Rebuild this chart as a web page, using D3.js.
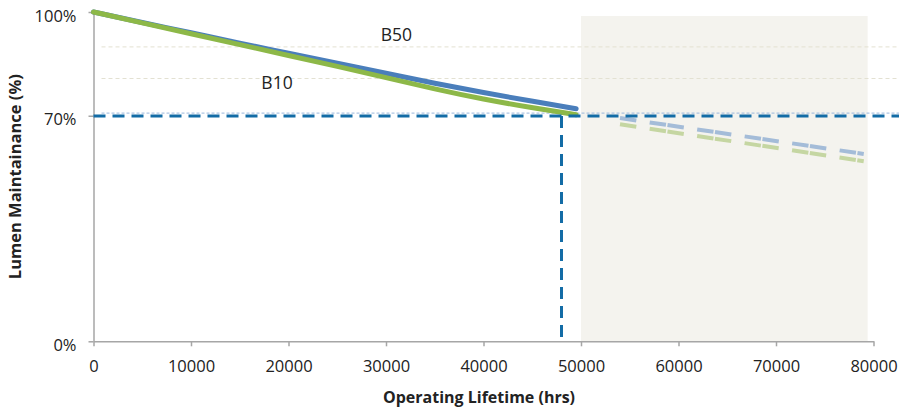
<!DOCTYPE html>
<html>
<head>
<meta charset="utf-8">
<script src="https://cdn.jsdelivr.net/npm/d3@7"></script>
<style>
  body { margin: 0; background: #fff; }
  text { font-family: "Open Sans", sans-serif; fill: #222; }
</style>
</head>
<body>
<svg id="chart" width="899" height="410"></svg>
<script>
// measured data, hours vs lumen maintenance (%)
const hours = [0, 5000, 10000, 15000, 20000, 25000, 30000, 35000, 40000, 45000, 49500];
const b50 = [100, 96.8, 93.7, 90.5, 87.5, 84.4, 81.4, 78.3, 75.5, 72.9, 70.6];
const b10 = [100, 96.7, 93.4, 90.1, 86.8, 83.5, 80.1, 76.6, 73.5, 70.9, 68.8];

// projected (dashed) part
const projHours = [54000, 79000];
const b50Proj = [67.8, 56.9];
const b10Proj = [65.9, 54.7];

const xTicks = [0, 10000, 20000, 30000, 40000, 50000, 60000, 70000, 80000];
const yTickValues = [0, 68.5, 100];
const yTickLabels = ["0%", "70%", "100%"];
const gridValues = [89.4, 79.8];
const l70Value = 68.4;
const l70Guide = 69.3;
const l70Hours = 48000;
const shadeHours = [50000, 79400];
const shadeTop = 98.8;

const svg = d3.select("#chart");
const W = +svg.attr("width");

const x = d3.scaleLinear().domain([0, 80000]).range([93.5, 873.5]);
const y = d3.scaleLinear().domain([0, 100]).range([341.3, 12]);

// shaded projection region
svg.append("rect")
    .attr("x", x(shadeHours[0]))
    .attr("y", y(shadeTop))
    .attr("width", x(shadeHours[1]) - x(shadeHours[0]))
    .attr("height", y(0) - y(shadeTop))
    .attr("fill", "#f4f3ee");

// light dotted reference lines
svg.selectAll(".grid")
    .data(gridValues)
    .enter()
    .append("line")
    .attr("class", "grid")
    .attr("x1", x(0) + 8).attr("x2", W)
    .attr("y1", d => y(d)).attr("y2", d => y(d))
    .attr("stroke", "#e3e1d2")
    .attr("stroke-width", 1)
    .attr("stroke-dasharray", "4,3");

svg.append("line")
    .attr("x1", x(0) + 8).attr("x2", W)
    .attr("y1", y(l70Guide)).attr("y2", y(l70Guide))
    .attr("stroke", "#9ab8dc")
    .attr("stroke-width", 1)
    .attr("stroke-dasharray", "3,2");

// axes
const xAxis = svg.append("g")
    .attr("transform", `translate(0,${y(0)})`)
    .call(d3.axisBottom(x).tickValues(xTicks).tickFormat(d3.format("d"))
        .tickSize(5).tickSizeOuter(0).tickPadding(14));

const yAxis = svg.append("g")
    .attr("transform", `translate(${x(0)},0)`)
    .call(d3.axisLeft(y).tickValues(yTickValues)
        .tickFormat((d, i) => yTickLabels[i])
        .tickSize(5).tickSizeOuter(0).tickPadding(12));

[xAxis, yAxis].forEach(g => {
    g.select(".domain").attr("stroke", "#a6a6a6").attr("stroke-width", 1.5);
    g.selectAll(".tick line").attr("stroke", "#a6a6a6").attr("stroke-width", 1.5);
    g.selectAll(".tick text")
        .attr("font-size", 16.5)
        .attr("font-family", "Open Sans, sans-serif")
        .attr("fill", "#222");
});
yAxis.selectAll(".tick text").attr("dy", "0.55em");

// solid measured lines, green drawn over blue
const line = d3.line()
    .x((d, i) => x(hours[i]))
    .y(d => y(d))
    .curve(d3.curveBasis);

svg.append("path")
    .datum(b50)
    .attr("d", line)
    .attr("fill", "none")
    .attr("stroke", "#4a7ebb")
    .attr("stroke-width", 5)
    .attr("stroke-linecap", "round");

svg.append("path")
    .datum(b10)
    .attr("d", line)
    .attr("fill", "none")
    .attr("stroke", "#8db848")
    .attr("stroke-width", 5)
    .attr("stroke-linecap", "round");

// projections
const projLine = d3.line()
    .x((d, i) => x(projHours[i]))
    .y(d => y(d));

[[b50Proj, "#a4bcd8"], [b10Proj, "#c5d6a2"]].forEach(([vals, color]) => {
    svg.append("path")
        .datum(vals)
        .attr("d", projLine)
        .attr("fill", "none")
        .attr("stroke", color)
        .attr("stroke-width", 4)
        .attr("stroke-dasharray", "16.5,1.5,16.5,13.5")
        .attr("stroke-dashoffset", 18);
});

// L70 threshold dashes
svg.append("line")
    .attr("x1", x(0)).attr("x2", W)
    .attr("y1", y(l70Value)).attr("y2", y(l70Value))
    .attr("stroke", "#136ca6")
    .attr("stroke-width", 3)
    .attr("stroke-dasharray", "12,7");

svg.append("line")
    .attr("x1", x(l70Hours)).attr("x2", x(l70Hours))
    .attr("y1", y(l70Value)).attr("y2", y(0))
    .attr("stroke", "#136ca6")
    .attr("stroke-width", 3)
    .attr("stroke-dasharray", "12,7");

// labels
svg.append("text")
    .attr("x", x(31060)).attr("y", y(91.3))
    .attr("text-anchor", "middle")
    .attr("font-size", 17.5)
    .text("B50");

svg.append("text")
    .attr("x", x(18820)).attr("y", y(76.6))
    .attr("text-anchor", "middle")
    .attr("font-size", 17.5)
    .text("B10");

svg.append("text")
    .attr("x", (x(0) + x(80000)) / 2 - 4.5)
    .attr("y", 403)
    .attr("text-anchor", "middle")
    .attr("font-size", 16)
    .attr("font-weight", "bold")
    .text("Operating Lifetime (hrs)");

svg.append("text")
    .attr("transform", `translate(21,${(y(0) + y(100)) / 2}) rotate(-90)`)
    .attr("text-anchor", "middle")
    .attr("font-size", 16.5)
    .attr("font-weight", "bold")
    .text("Lumen Maintainance (%)");
</script>
</body>
</html>
